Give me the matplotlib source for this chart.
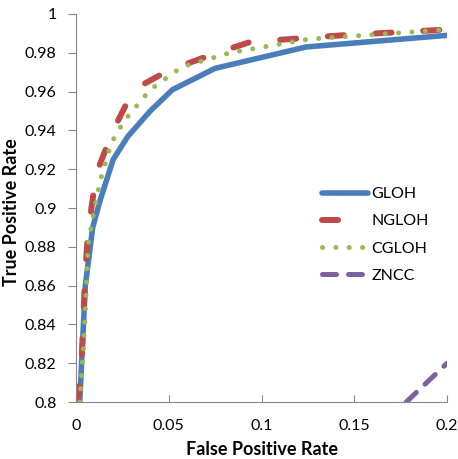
import matplotlib.pyplot as plt

gloh_fpr = [0.002, 0.005, 0.009, 0.013, 0.02, 0.028, 0.04, 0.052, 0.075, 0.124, 0.2]
gloh_tpr = [0.800, 0.860, 0.890, 0.904, 0.925, 0.937, 0.950, 0.961, 0.972, 0.983, 0.989]

ngloh_fpr = [0.001, 0.003, 0.004, 0.005, 0.0065, 0.011, 0.02, 0.031, 0.05, 0.076, 0.094, 0.143, 0.2]
ngloh_tpr = [0.800, 0.821, 0.844, 0.8675, 0.888, 0.918, 0.940, 0.961, 0.971, 0.980, 0.9856, 0.989, 0.992]

cgloh_fpr = [0.002, 0.004, 0.0054, 0.0065, 0.009, 0.013, 0.019, 0.026, 0.04, 0.057, 0.083, 0.125, 0.2]
cgloh_tpr = [0.800, 0.828, 0.855, 0.881, 0.895, 0.914, 0.9335, 0.945, 0.961, 0.9727, 0.980, 0.987, 0.992]

zncc_fpr = [0.178, 0.2]
zncc_tpr = [0.800, 0.820]

plt.rcParams['font.family'] = ['Lato', 'DejaVu Sans']

fig = plt.figure(figsize=(4.58, 4.59), dpi=100)
ax = fig.add_axes([0.166, 0.124, 0.81, 0.8455])

ax.plot(gloh_fpr, gloh_tpr, color='#4a7ebb', lw=4.0, solid_capstyle='round', label='GLOH')
ax.plot(ngloh_fpr, ngloh_tpr, color='#be4b48', lw=4.3, dashes=(2.7, 5.3), dash_capstyle='round', label='NGLOH')
ax.plot(cgloh_fpr, cgloh_tpr, color='#98b954', lw=3.6, dashes=(0.01, 2.66), dash_capstyle='round', label='CGLOH')
ax.plot(zncc_fpr, zncc_tpr, color='#7d60a0', lw=3.6, dashes=(2.8, 2.4), dash_capstyle='round', label='ZNCC')

ax.set_xlim(0, 0.2)
ax.set_ylim(0.8, 1.0)
ax.set_xticks([0, 0.05, 0.1, 0.15, 0.2])
ax.set_xticklabels(['0', '0.05', '0.1', '0.15', '0.2'])
ax.set_yticks([0.8, 0.82, 0.84, 0.86, 0.88, 0.9, 0.92, 0.94, 0.96, 0.98, 1.0])
ax.set_yticklabels(['0.8', '0.82', '0.84', '0.86', '0.88', '0.9', '0.92', '0.94', '0.96', '0.98', '1'])

for s in ['top', 'right']:
    ax.spines[s].set_visible(False)
for s in ['left', 'bottom']:
    ax.spines[s].set_color('#868686')
ax.tick_params(axis='y', direction='out', length=6, color='#868686', labelsize=11.5, pad=8)
ax.tick_params(axis='x', direction='in', length=5, color='#868686', labelsize=11.5, pad=12)

ax.set_xlabel('False Positive Rate', fontsize=13, fontweight='bold')
ax.set_ylabel('True Positive Rate', fontsize=13, fontweight='bold')
ax.xaxis.set_label_coords(0.5, -0.1)
ax.yaxis.set_label_coords(-0.15, 0.49)

ax.legend(loc='upper left', bbox_to_anchor=(322 / 458, 1 - 187 / 459), bbox_transform=fig.transFigure,
          frameon=False, fontsize=11.5, borderpad=0, borderaxespad=0,
          handlelength=2.85, handletextpad=0.25, labelspacing=0.82)

fig.savefig('out.png', dpi=100)
